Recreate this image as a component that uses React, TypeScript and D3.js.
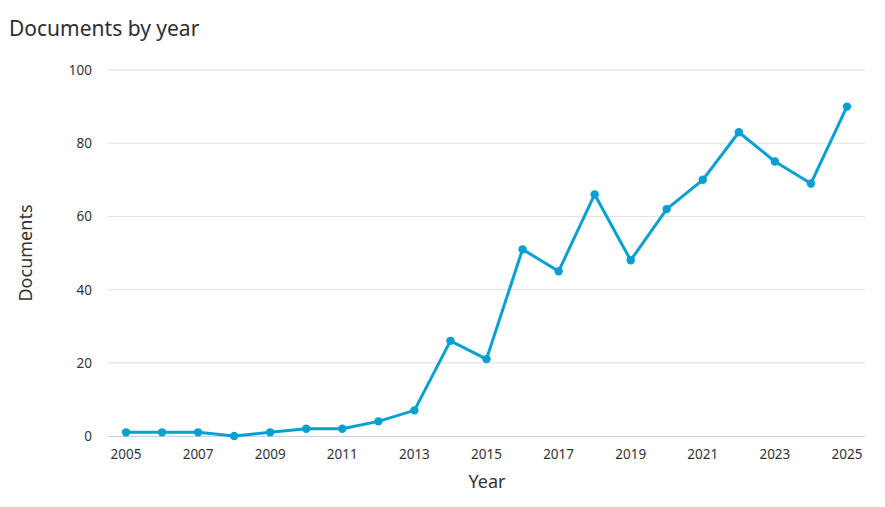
import React from "react";
import * as d3 from "d3";

const years = [2005, 2006, 2007, 2008, 2009, 2010, 2011, 2012, 2013, 2014, 2015, 2016, 2017, 2018, 2019, 2020, 2021, 2022, 2023, 2024, 2025];
const documents = [1, 1, 1, 0, 1, 2, 2, 4, 7, 26, 21, 51, 45, 66, 48, 62, 70, 83, 75, 69, 90];
const yTicks = [0, 20, 40, 60, 80, 100];
const xTickYears = years.filter((y) => (y - 2005) % 2 === 0);

const W = 885;
const H = 507;
const left = 108;
const right = 865;
const top = 70;
const bottom = 436;
const lineColor = "#089fd1";
const font = "'Noto Sans', 'Open Sans', sans-serif";

export default function App() {
  const x = d3.scalePoint<number>().domain(years).range([left, right]).padding(0.5);
  const y = d3.scaleLinear().domain([0, 100]).range([bottom, top]);
  const line = d3
    .line<number>()
    .x((_, i) => x(years[i]) as number)
    .y((d) => y(d));
  return (
    <svg width={W} height={H} style={{ position: "absolute", left: 0, top: 0, background: "#fff" }}>
      <text x={9} y={36} fontSize={21} fill="#2e2e2e" fontFamily={font}>
        Documents by year
      </text>
      {yTicks.map((t) => (
        <g key={t}>
          {t !== 0 && <line x1={left} x2={right} y1={y(t)} y2={y(t)} stroke="#e0e0e0" strokeWidth={1} />}
          <text x={92} y={y(t) + 5} textAnchor="end" fontSize={13.5} fill="#333" fontFamily={font}>
            {t}
          </text>
        </g>
      ))}
      <line x1={left} x2={right} y1={bottom + 0.5} y2={bottom + 0.5} stroke="#c5d3e8" strokeWidth={1} />
      {xTickYears.map((yr) => (
        <text key={yr} x={x(yr)} y={459} textAnchor="middle" fontSize={13.5} fill="#333" fontFamily={font}>
          {yr}
        </text>
      ))}
      <text x={487} y={488} textAnchor="middle" fontSize={18} fill="#333" fontFamily={font}>
        Year
      </text>
      <text
        transform={`translate(32, ${(top + bottom) / 2}) rotate(-90)`}
        textAnchor="middle"
        fontSize={18}
        fill="#333"
        fontFamily={font}
      >
        Documents
      </text>
      <path d={line(documents) || ""} fill="none" stroke={lineColor} strokeWidth={3} strokeLinejoin="round" />
      {documents.map((d, i) => (
        <circle key={years[i]} cx={x(years[i])} cy={y(d)} r={4.2} fill={lineColor} />
      ))}
    </svg>
  );
}
